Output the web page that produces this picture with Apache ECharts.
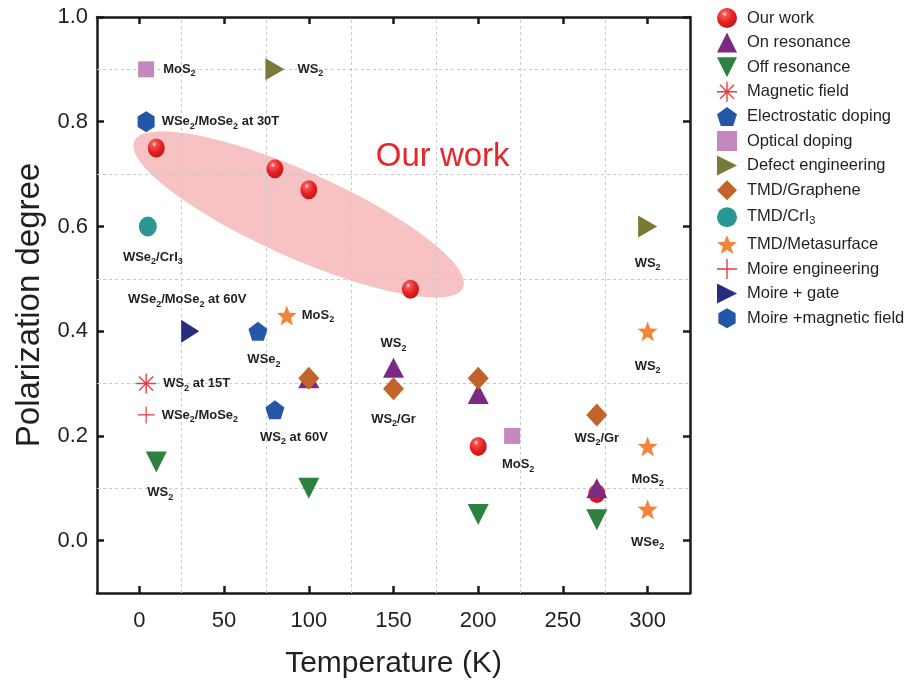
<!DOCTYPE html>
<html><head><meta charset="utf-8">
<script src="https://cdn.jsdelivr.net/npm/echarts@6/dist/echarts.min.js"></script>
<style>html,body{margin:0;padding:0;background:#fff}#c{width:908px;height:684px}</style>
</head><body><div id="c"></div>
<script>
// ---------- data ----------
const xTicks = [0, 50, 100, 150, 200, 250, 300];
const yTicks = [0, 0.2, 0.4, 0.6, 0.8, 1.0];
const xGrid = [25, 75, 125, 175, 225, 275];
const yGrid = [0.1, 0.3, 0.5, 0.7, 0.9];

const ourWork = [[10, 0.75], [80, 0.71], [100, 0.67], [160, 0.48], [200, 0.18], [270, 0.09]];
const onResonance = [[100, 0.31], [150, 0.33], [200, 0.28], [270, 0.10]];
const onResonanceLabels = ['', 'WS_2', '', ''];
const offResonance = [[10, 0.15], [100, 0.10], [200, 0.05], [270, 0.04]];
const offResonanceLabels = ['WS_2', '', '', ''];
const magneticField = [[4, 0.30]];
const magneticFieldLabels = ['WS_2 at 15T'];
const electrostatic = [[70, 0.40], [80, 0.25]];
const electrostaticLabels = ['WSe_2', 'WS_2 at 60V'];
const optical = [[4, 0.90], [220, 0.20]];
const opticalLabels = ['MoS_2', 'MoS_2'];
const defect = [[80, 0.90], [300, 0.60]];
const defectLabels = ['WS_2', 'WS_2'];
const tmdGraphene = [[100, 0.31], [150, 0.29], [200, 0.31], [270, 0.24]];
const tmdGrapheneLabels = ['', 'WS_2/Gr', '', 'WS_2/Gr'];
const tmdCrI3 = [[5, 0.60]];
const tmdCrI3Labels = ['WSe_2/CrI_3'];
const metasurface = [[87, 0.43], [300, 0.40], [300, 0.18], [300, 0.06]];
const metasurfaceLabels = ['MoS_2', 'WS_2', 'MoS_2', 'WSe_2'];
const moireEng = [[4, 0.24]];
const moireEngLabels = ['WSe_2/MoSe_2'];
const moireGate = [[30, 0.40]];
const moireGateLabels = ['WSe_2/MoSe_2 at 60V'];
const moireMag = [[4, 0.80]];
const moireMagLabels = ['WSe_2/MoSe_2 at 30T'];

// ---------- style ----------
const FONT = "'Liberation Sans', Arial, sans-serif";
const TXT = '#231f20';
const SYM = {
  up: 'path://M10 0 L20 20 L0 20 Z',
  down: 'path://M0 0 L20 0 L10 20 Z',
  right: 'path://M0 0 L20 10 L0 20 Z',
  rect: 'path://M0 0 L20 0 L20 20 L0 20 Z',
  diamond: 'path://M10 0 L20 10 L10 20 L0 10 Z',
  pentagon: 'path://M100 0 L195.1 69.1 L158.8 180.9 L41.2 180.9 L4.9 69.1 Z',
  star: 'path://M100 0 L124.7 66 L195.1 69.1 L139.9 113 L158.8 180.9 L100 142 L41.2 180.9 L60.1 113 L4.9 69.1 L75.3 66 Z',
  hexagon: 'path://M86.6 0 L173.2 50 L173.2 150 L86.6 200 L0 150 L0 50 Z',
  asterisk: 'path://M9.3 0 L10.7 0 L10.7 20 L9.3 20 Z M0 9.3 L20 9.3 L20 10.7 L0 10.7 Z M3.42 2.43 L17.57 16.58 L16.58 17.57 L2.43 3.42 Z M2.43 16.58 L16.58 2.43 L17.57 3.42 L3.42 17.57 Z',
  plus: 'path://M9.3 0 L10.7 0 L10.7 9.3 L20 9.3 L20 10.7 L10.7 10.7 L10.7 20 L9.3 20 L9.3 10.7 L0 10.7 L0 9.3 L9.3 9.3 Z'
};
const sub = s => s.replace(/_(\d)/g, '{s|$1}');
const labelBase = {
  fontFamily: FONT, fontWeight: 'bold', fontSize: 13, color: TXT, lineHeight: 18, opacity: 1,
  rich: { s: { fontFamily: FONT, fontWeight: 'bold', fontSize: 9, lineHeight: 8, verticalAlign: 'bottom', color: TXT } }
};
// placement: [position, distance, dx]
function build(values, labels, places) {
  return values.map((v, i) => {
    const t = labels ? labels[i] : '';
    if (!t) return { value: v };
    const p = places[i];
    return {
      value: v,
      label: Object.assign({}, labelBase, {
        show: true, position: p[0], distance: p[1], offset: [p[2] || 0, 0],
        formatter: () => sub(t)
      })
    };
  });
}
const sphere = {
  type: 'radial', x: 0.38, y: 0.3, r: 0.75,
  colorStops: [
    { offset: 0, color: '#ffe6e6' }, { offset: 0.18, color: '#f45454' },
    { offset: 0.55, color: '#e62222' }, { offset: 1, color: '#c01414' }
  ]
};
function sc(name, symbol, size, style, data) {
  return { name, type: 'scatter', symbol, symbolSize: size, z: 3,
    itemStyle: Object.assign({ opacity: 1 }, style), emphasis: { disabled: true }, data };
}

const series = [
  sc('Our work', 'circle', [17, 19], { color: sphere }, build(ourWork)),
  sc('On resonance', SYM.up, [21, 20], { color: '#7b2a83' },
    build(onResonance, onResonanceLabels, [null, ['top', 5, 0]])),
  sc('Off resonance', SYM.down, [21, 21], { color: '#2e8241' },
    build(offResonance, offResonanceLabels, [['bottom', 11, 4]])),
  sc('Magnetic field', SYM.asterisk, 20, { color: '#ee3a3a' },
    build(magneticField, magneticFieldLabels, [['right', 7, 0]])),
  sc('Electrostatic doping', SYM.pentagon, [19, 19], { color: '#2457a6' },
    build(electrostatic, electrostaticLabels, [['bottom', 10, 6], ['bottom', 9, 19]])),
  sc('Optical doping', SYM.rect, [16, 16], { color: '#c487bf' },
    build(optical, opticalLabels, [['right', 9, 0], ['bottom', 12, 6]])),
  sc('Defect engineering', SYM.right, [19, 22], { color: '#7a7a36' },
    build(defect, defectLabels, [['right', 13, 0], ['bottom', 17, 0]])),
  sc('TMD/Graphene', SYM.diamond, [21, 23], { color: '#c2632b' },
    build(tmdGraphene, tmdGrapheneLabels, [null, ['bottom', 10, 0], null, ['bottom', 3, 0]])),
  sc('TMD/CrI3', 'circle', [18, 20], { color: '#2a9792' },
    build(tmdCrI3, tmdCrI3Labels, [['bottom', 12, 5]])),
  sc('TMD/Metasurface', SYM.star, [20, 20], { color: '#f0853b' },
    build(metasurface, metasurfaceLabels, [['right', 5, 0], ['bottom', 16, 0], ['bottom', 14, 0], ['bottom', 14, 0]])),
  sc('Moire engineering', SYM.plus, 17, { color: '#ec3840' },
    build(moireEng, moireEngLabels, [['right', 7, 0]])),
  sc('Moire + gate', SYM.right, [18, 23], { color: '#262d7c' },
    build(moireGate, moireGateLabels, [['top', 11, -3]])),
  sc('Moire +magnetic field', SYM.hexagon, [17, 21], { color: '#2356a8' },
    build(moireMag, moireMagLabels, [['right', 7, 0]]))
];
const legendNames = series.map(s => s.name);
series.unshift({
  name: '_grid', type: 'scatter', data: [], z: 1, silent: true,
  markLine: {
    silent: true, symbol: 'none', label: { show: false }, animation: false, z: 1,
    lineStyle: { color: '#c9c9c9', width: 1, type: [3, 3] },
    emphasis: { disabled: true },
    data: xGrid.map(v => ({ xAxis: v })).concat(yGrid.map(v => ({ yAxis: v })))
  }
});

const axisLine = { show: true, onZero: false, lineStyle: { color: '#1a1a1a', width: 2.5 } };
const tick = vals => ({ show: true, inside: true, length: 7, customValues: vals, lineStyle: { color: '#1a1a1a', width: 2.5 } });

const chart = echarts.init(document.getElementById('c'), null, { renderer: 'canvas' });
chart.setOption({
  animation: false,
  backgroundColor: '#fff',
  grid: { left: 97, right: 218, top: 17, bottom: 90 },
  legend: {
    data: legendNames.map(n => n === 'TMD/CrI3'
      ? { name: n, textStyle: { padding: [2, 0, 3, 5] } } : n),
    orient: 'vertical', left: 712, top: 3,
    itemWidth: 20, itemHeight: 20, itemGap: 4.6,
    formatter: n => n === 'TMD/CrI3' ? 'TMD/CrI{s|3}' : n,
    textStyle: {
      fontFamily: FONT, fontSize: 16.5, color: TXT, lineHeight: 20, padding: [0, 0, 0, 5],
      rich: { s: { fontFamily: FONT, fontSize: 11, lineHeight: 8, verticalAlign: 'bottom', color: TXT } }
    }
  },
  xAxis: [
    { type: 'value', min: -25, max: 325, position: 'bottom',
      name: 'Temperature (K)', nameLocation: 'middle', nameGap: 56,
      nameTextStyle: { fontFamily: FONT, fontSize: 30, color: TXT },
      axisLine, axisTick: tick(xTicks), splitLine: { show: false },
      axisLabel: { customValues: xTicks, margin: 17, fontFamily: FONT, fontSize: 22, color: TXT } },
    { type: 'value', min: -25, max: 325, position: 'top',
      axisLine, axisTick: tick(xTicks), splitLine: { show: false },
      axisLabel: { show: false, customValues: xTicks } }
  ],
  yAxis: [
    { type: 'value', min: -0.1, max: 1.0, position: 'left',
      name: 'Polarization degree', nameLocation: 'middle', nameGap: 51,
      nameTextStyle: { fontFamily: FONT, fontSize: 33, color: TXT },
      axisLine, axisTick: tick(yTicks), splitLine: { show: false },
      axisLabel: { customValues: yTicks, margin: 9, fontFamily: FONT, fontSize: 22, color: TXT,
        formatter: v => v.toFixed(1) } },
    { type: 'value', min: -0.1, max: 1.0, position: 'right',
      axisLine, axisTick: tick(yTicks), splitLine: { show: false },
      axisLabel: { show: false, customValues: yTicks } }
  ],
  series
});

// decorative highlight ellipse and "Our work" annotation, anchored in data space
const p1 = chart.convertToPixel({ gridIndex: 0 }, [-3, 0.763]);
const p2 = chart.convertToPixel({ gridIndex: 0 }, [191, 0.483]);
const cx = (p1[0] + p2[0]) / 2, cy = (p1[1] + p2[1]) / 2;
const ang = Math.atan2(p2[1] - p1[1], p2[0] - p1[0]);
const half = Math.hypot(p2[0] - p1[0], p2[1] - p1[1]) / 2;
const tp = chart.convertToPixel({ gridIndex: 0 }, [179, 0.733]);
chart.setOption({
  graphic: [
    { type: 'circle', silent: true, z: 0, x: cx, y: cy, rotation: -ang,
      scaleX: half, scaleY: 43, shape: { cx: 0, cy: 0, r: 1 },
      style: { fill: '#f7c2c3' } },
    { type: 'text', silent: true, z: 10, x: tp[0], y: tp[1],
      style: { text: 'Our work', fill: '#e8262a', font: '33px ' + FONT, align: 'center', verticalAlign: 'middle' } }
  ]
});
</script>
</body></html>
